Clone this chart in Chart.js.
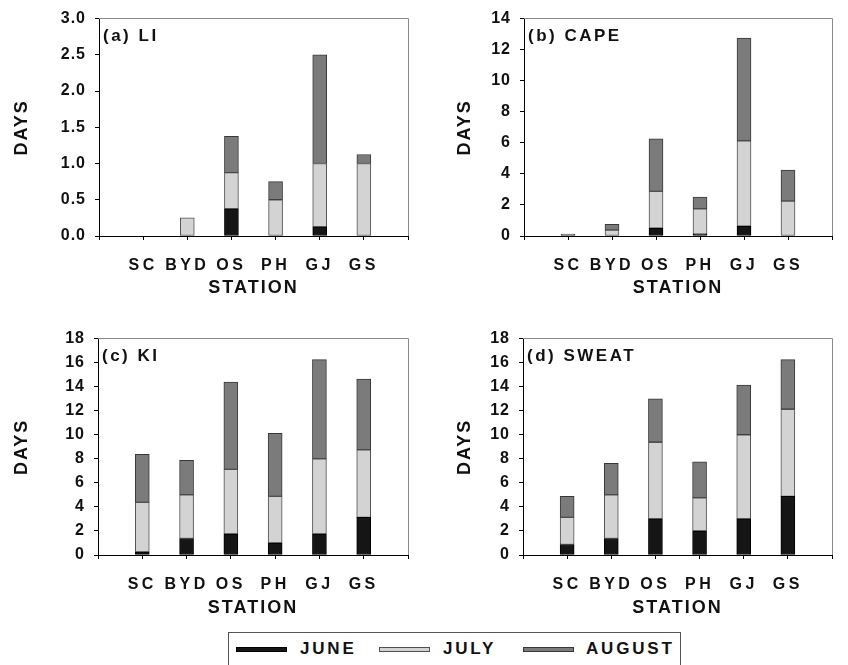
<!DOCTYPE html>
<html><head><meta charset="utf-8">
<script src="https://cdn.jsdelivr.net/npm/chart.js@4.4.1/dist/chart.umd.min.js"></script>
<style>
html,body{margin:0;padding:0;background:#fff;}
body{width:848px;height:665px;overflow:hidden;position:relative;font-family:"Liberation Sans",Arial,sans-serif;}
canvas.panel{position:absolute;}
#legend{position:absolute;left:228px;top:632px;width:453px;height:45px;border:1px solid #555;box-sizing:border-box;}
.sw{position:absolute;top:14px;width:51px;height:5px;box-sizing:border-box;}
.lt{position:absolute;top:6px;font-weight:bold;font-size:17px;letter-spacing:2.8px;color:#111;line-height:20px;}
</style>
</head><body>
<canvas id="pa" class="panel" width="424" height="310" style="left:0;top:0"></canvas>
<canvas id="pb" class="panel" width="424" height="310" style="left:424px;top:0"></canvas>
<canvas id="pc" class="panel" width="424" height="310" style="left:0;top:320px"></canvas>
<canvas id="pd" class="panel" width="424" height="310" style="left:424px;top:320px"></canvas>
<div id="legend"></div>
<script>
// ---- data ----
const stations = ['SC','BYD','OS','PH','GJ','GS'];
const months = ['JUNE','JULY','AUGUST'];
const monthColors = ['#151515','#d3d3d3','#7b7b7b'];
const monthBorders = ['#000000','#505050','#383838'];

const liJune  = [0, 0, 0.375, 0, 0.125, 0];
const liJuly  = [0, 0.25, 0.5, 0.5, 0.875, 1.0];
const liAug   = [0, 0, 0.5, 0.25, 1.5, 0.125];

const capeJune = [0, 0, 0.5, 0.125, 0.625, 0];
const capeJuly = [0, 0.375, 2.375, 1.625, 5.5, 2.25];
const capeAug  = [0.125, 0.375, 3.375, 0.75, 6.625, 2.0];

const kiJune = [0.25, 1.375, 1.75, 1.0, 1.75, 3.125];
const kiJuly = [4.125, 3.625, 5.375, 3.875, 6.25, 5.625];
const kiAug  = [4.0, 2.875, 7.25, 5.25, 8.25, 5.875];

const sweatJune = [0.875, 1.375, 3.0, 2.0, 3.0, 4.875];
const sweatJuly = [2.25, 3.625, 6.375, 2.75, 7.0, 7.25];
const sweatAug  = [1.75, 2.625, 3.625, 3.0, 4.125, 4.125];

const panelLabels = ['(a) LI','(b) CAPE','(c) KI','(d) SWEAT'];
const yAxisTitle = 'DAYS';
const xAxisTitle = 'STATION';

const FONT = '"Liberation Sans", Arial, sans-serif';
const SPACING = {title:'2px', x:'3.5px', y:'1px', label:'2.5px'};

function framePlugin(label){
  return {
    id:'frame',
    beforeLayout(chart){ chart.ctx.letterSpacing = SPACING.title; },
    beforeDraw(chart){
      const ctx = chart.ctx;
      ctx.letterSpacing = SPACING.title;
      ['x','y'].forEach(k=>{
        const s = chart.scales[k];
        if (s && !s._lsWrapped){
          const orig = s.drawLabels.bind(s);
          s.drawLabels = function(area){
            ctx.save(); ctx.letterSpacing = SPACING[k]; orig(area); ctx.restore();
          };
          s._lsWrapped = true;
        }
      });
    },
    afterDraw(chart){
      const ctx = chart.ctx, a = chart.chartArea;
      ctx.save();
      ctx.strokeStyle = '#8a8a8a'; ctx.lineWidth = 1;
      ctx.beginPath();
      ctx.moveTo(a.left, Math.floor(a.top)+0.5);
      ctx.lineTo(Math.floor(a.right)+0.5, Math.floor(a.top)+0.5);
      ctx.lineTo(Math.floor(a.right)+0.5, a.bottom);
      ctx.stroke();
      ctx.fillStyle = '#111';
      ctx.font = 'bold 17px ' + FONT;
      ctx.letterSpacing = SPACING.label;
      ctx.textBaseline = 'middle';
      ctx.textAlign = 'left';
      ctx.fillText(label, a.left + 4, a.top + 18);
      ctx.restore();
    }
  };
}

function makeChart(id, label, june, july, aug, yMax, yStep, decimals, area){
  const pad = v => [null, ...v, null];
  const series = [june, july, aug];
  return new Chart(document.getElementById(id), {
    type:'bar',
    data:{
      labels:['', ...stations, ''],
      datasets: series.map((d,i)=>({
        label: months[i], data: pad(d),
        backgroundColor: monthColors[i], borderColor: monthBorders[i],
        borderWidth: 1, borderSkipped: false, barThickness: 14
      }))
    },
    options:{
      responsive:false, animation:false, devicePixelRatio:1,
      layout:{padding:{left:0, top:area.top, right:424-area.right, bottom:0}},
      plugins:{legend:{display:false}, tooltip:{enabled:false}},
      scales:{
        x:{
          stacked:true, offset:false,
          grid:{display:true, offset:false, drawOnChartArea:false, drawTicks:true, tickLength:4, tickColor:'#000', tickWidth:1},
          border:{display:true, color:'#000', width:1},
          ticks:{autoSkip:false, maxRotation:0, minRotation:0, padding:16, color:'#111', font:{family:FONT, size:16, weight:'bold'}},
          title:{display:true, text:xAxisTitle, color:'#111', font:{family:FONT, size:18, weight:'bold'}, padding:{top:0, bottom:11}},
          afterFit(s){ s.height = 310 - area.bottom; }
        },
        y:{
          stacked:true, min:0, max:yMax,
          grid:{display:true, drawOnChartArea:false, drawTicks:true, tickLength:4, tickColor:'#000', tickWidth:1},
          border:{display:true, color:'#000', width:1},
          ticks:{stepSize:yStep, padding:9, color:'#111', font:{family:FONT, size:16, weight:'bold'},
                 callback:v=>Number(v).toFixed(decimals)},
          title:{display:true, text:yAxisTitle, color:'#111', font:{family:FONT, size:18, weight:'bold'}, padding:{top:area.tpad, bottom:0}},
          afterFit(s){ s.width = area.left; }
        }
      }
    },
    plugins:[framePlugin(label)]
  });
}

makeChart('pa', panelLabels[0], liJune, liJuly, liAug, 3, 0.5, 1, {left:99, right:417, top:16, bottom:236, tpad:11});
makeChart('pb', panelLabels[1], capeJune, capeJuly, capeAug, 14, 2, 0, {left:100, right:419, top:16, bottom:236, tpad:30});
makeChart('pc', panelLabels[2], kiJune, kiJuly, kiAug, 18, 2, 0, {left:98, right:417, top:16, bottom:235, tpad:11});
makeChart('pd', panelLabels[3], sweatJune, sweatJuly, sweatAug, 18, 2, 0, {left:99, right:419, top:16, bottom:235, tpad:30});

// legend
const legend = document.getElementById('legend');
const swX = [7, 150, 294];
const txX = [71, 214, 357];
months.forEach((m,i)=>{
  const sw = document.createElement('div');
  sw.className = 'sw';
  sw.style.left = swX[i] + 'px';
  sw.style.background = monthColors[i];
  sw.style.border = '1px solid ' + monthBorders[i];
  legend.appendChild(sw);
  const t = document.createElement('div');
  t.className = 'lt';
  t.style.left = txX[i] + 'px';
  t.textContent = m;
  legend.appendChild(t);
});
</script>
</body></html>
